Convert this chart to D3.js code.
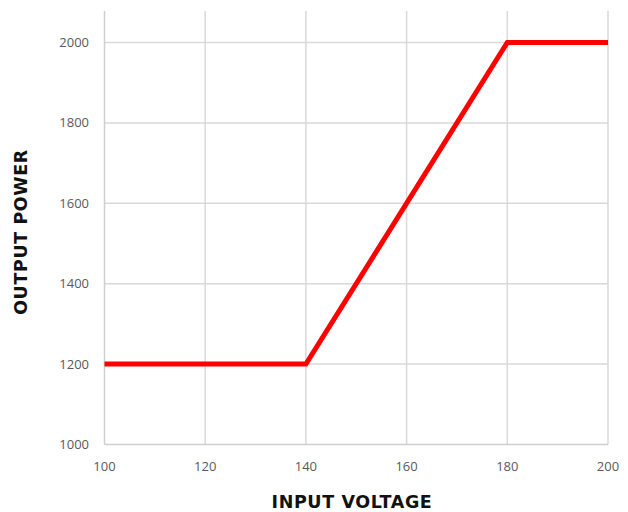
<!DOCTYPE html>
<html>
<head>
<meta charset="utf-8">
<script src="https://cdn.jsdelivr.net/npm/d3@7"></script>
<style>
  body { margin: 0; background: #fff; }
</style>
</head>
<body>
<div id="chart"></div>
<script>
// data
let voltage = [100, 140, 180, 200]
let power = [1200, 1200, 2000, 2000]
let xTicks = [100, 120, 140, 160, 180, 200]
let yTicks = [1000, 1200, 1400, 1600, 1800, 2000]

let svg = d3.select("#chart").append("svg")
  .attr("width", 628)
  .attr("height", 512)

let x = d3.scaleLinear().domain([100, 200]).range([104.5, 608])
let y = d3.scaleLinear().domain([1000, 2000]).range([444.5, 42.5])
let gridTop = 11

// gridlines
svg.append("g").selectAll("line")
  .data(yTicks.slice(1))
  .enter().append("line")
  .attr("x1", x(100)).attr("x2", x(200))
  .attr("y1", d => y(d)).attr("y2", d => y(d))
  .attr("stroke", "#d9d9d9").attr("stroke-width", 1.5)

svg.append("g").selectAll("line")
  .data(xTicks.slice(1))
  .enter().append("line")
  .attr("x1", d => x(d)).attr("x2", d => x(d))
  .attr("y1", gridTop).attr("y2", y(1000))
  .attr("stroke", "#d9d9d9").attr("stroke-width", 1.5)

// axis lines
svg.append("line")
  .attr("x1", x(100)).attr("x2", x(100))
  .attr("y1", gridTop).attr("y2", y(1000))
  .attr("stroke", "#cfcfcf").attr("stroke-width", 1.5)
svg.append("line")
  .attr("x1", x(100)).attr("x2", x(200))
  .attr("y1", y(1000)).attr("y2", y(1000))
  .attr("stroke", "#cfcfcf").attr("stroke-width", 1.5)

// tick labels
svg.append("g").selectAll("text")
  .data(yTicks)
  .enter().append("text")
  .attr("x", 89)
  .attr("y", d => y(d))
  .attr("dy", "0.35em")
  .attr("text-anchor", "end")
  .attr("font-family", "Open Sans, sans-serif")
  .attr("font-size", 13)
  .attr("fill", "#595959")
  .text(d => d)

svg.append("g").selectAll("text")
  .data(xTicks)
  .enter().append("text")
  .attr("x", d => x(d))
  .attr("y", 466)
  .attr("dy", "0.35em")
  .attr("text-anchor", "middle")
  .attr("font-family", "Open Sans, sans-serif")
  .attr("font-size", 13)
  .attr("fill", "#595959")
  .text(d => d)

// the line
svg.append("path")
  .attr("d", d3.line().x((d, i) => x(voltage[i])).y(d => y(d))(power))
  .attr("fill", "none")
  .attr("stroke", "#ff0000")
  .attr("stroke-width", 5)
  .attr("stroke-linejoin", "miter")

// axis titles
svg.append("text")
  .attr("x", 352).attr("y", 502)
  .attr("dy", "0.35em")
  .attr("text-anchor", "middle")
  .attr("font-family", "DejaVu Sans, sans-serif")
  .attr("font-weight", "bold")
  .attr("font-size", 17.5)
  .attr("letter-spacing", 0.6)
  .attr("fill", "#111")
  .text("INPUT VOLTAGE")

svg.append("text")
  .attr("transform", "translate(21,232) rotate(-90)")
  .attr("dy", "0.35em")
  .attr("text-anchor", "middle")
  .attr("font-family", "DejaVu Sans, sans-serif")
  .attr("font-weight", "bold")
  .attr("font-size", 17.5)
  .attr("letter-spacing", 0.6)
  .attr("fill", "#111")
  .text("OUTPUT POWER")
</script>
</body>
</html>
